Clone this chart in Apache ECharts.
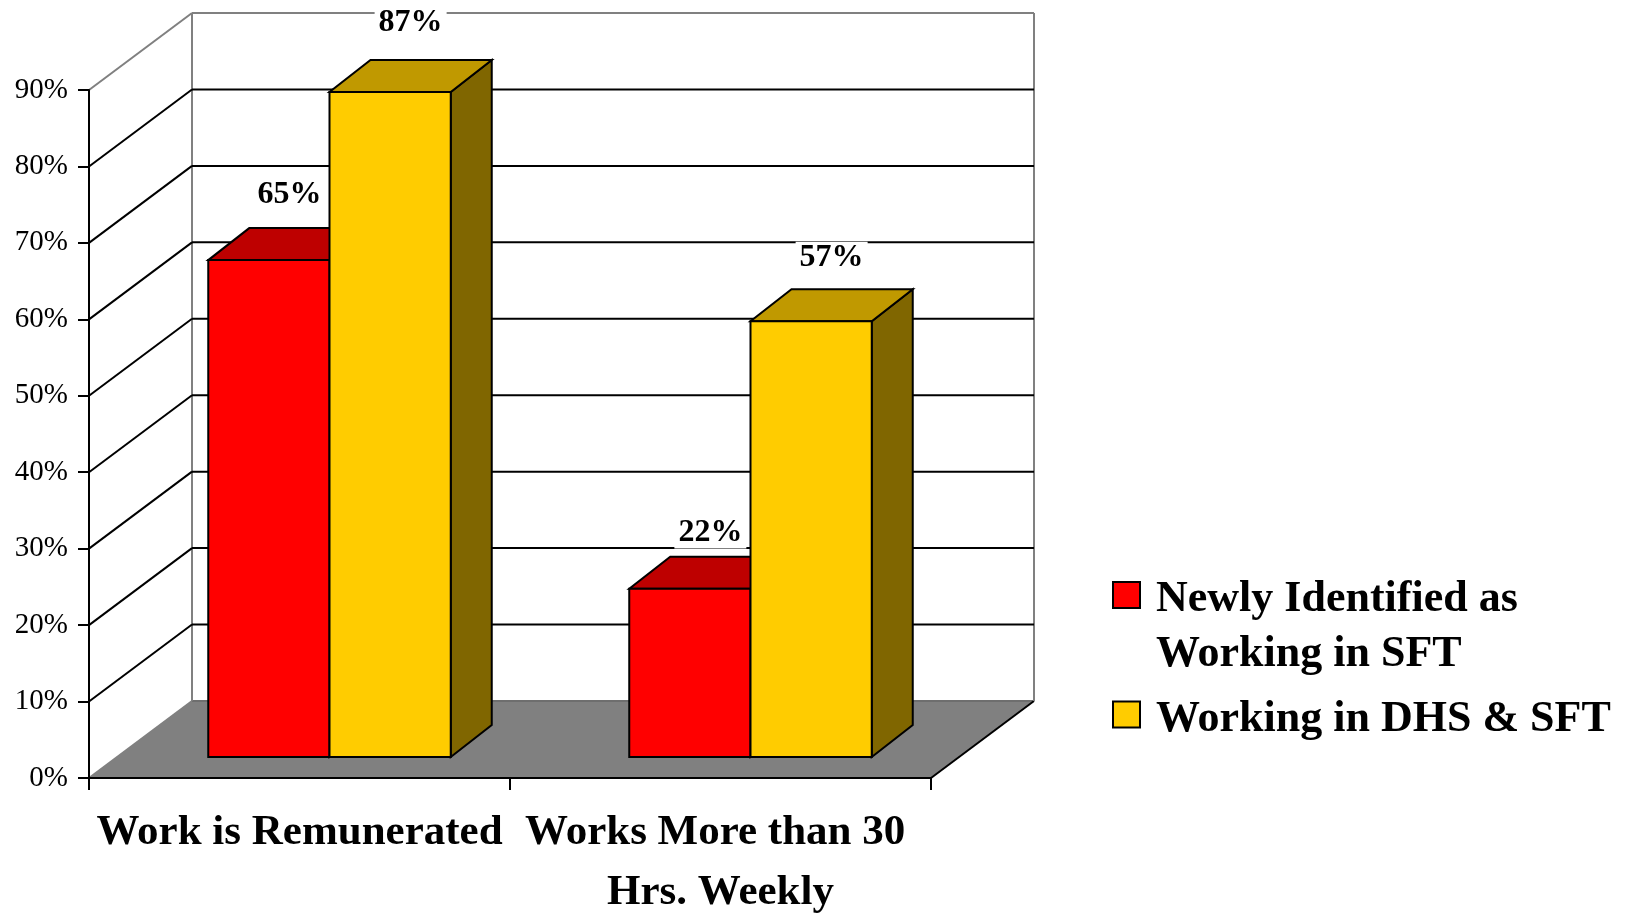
<!DOCTYPE html>
<html>
<head>
<meta charset="utf-8">
<title>Work in SFT</title>
<script src="https://cdn.jsdelivr.net/npm/echarts@6/dist/echarts.min.js"></script>
<style>
html, body { margin: 0; padding: 0; background: #fff; }
#chart { width: 1631px; height: 916px; }
</style>
</head>
<body>
<div id="chart"></div>
<script>
const categories = ['Work is Remunerated', 'Works More than 30 Hrs. Weekly'];
const seriesNames = ['Newly Identified as Working in SFT', 'Working in DHS & SFT'];
const newlyValues = [65, 22];
const dhsValues = [87, 57];
const yTicks = [0, 10, 20, 30, 40, 50, 60, 70, 80, 90];

const FONT = '"Liberation Serif", "Times New Roman", serif';
// fake 3d: depth of the box and of the bars, in px
const DX = 103, DY = 77;
const BAR_DX = 41, BAR_DY = 32;
const FRONT_DX = 30, FRONT_DY = 21;
const BAR_W = 0.288;

const chart = echarts.init(document.getElementById('chart'));

// walls, floor and grid lines of the box
function renderBox (params, api) {
  const cs = params.coordSys;
  const v = api.value(0);
  const x0 = cs.x;
  const x1 = cs.x + cs.width;
  const y = api.coord([0, v])[1];
  const gray = '#808080';
  const black = '#000';
  const line = (a, b, color) => ({
    type: 'line',
    shape: { x1: a[0], y1: a[1], x2: b[0], y2: b[1] },
    style: { stroke: color, lineWidth: 2 }
  });
  const children = [];
  if (v === 0) {
    children.push({
      type: 'polygon',
      shape: { points: [[x0, y], [x1, y], [x1 + DX, y - DY], [x0 + DX, y - DY]] },
      style: { fill: gray }
    });
    children.push(line([x0, y], [x0 + DX, y - DY], gray));
    children.push(line([x0 + DX, y - DY], [x1 + DX, y - DY], '#6e6e6e'));
    children.push(line([x1, y], [x1 + DX, y - DY], black));
    children.push(line([x0 + DX, y - DY], [x0 + DX, cs.y - DY], gray));
    children.push(line([x1 + DX, y - DY], [x1 + DX, cs.y - DY], gray));
  } else if (v === 90) {
    children.push(line([x0, y], [x0 + DX, y - DY], gray));
    children.push(line([x0 + DX, y - DY], [x1 + DX, y - DY], gray));
  } else {
    children.push(line([x0, y], [x0 + DX, y - DY], black));
    children.push(line([x0 + DX, y - DY], [x1 + DX, y - DY], black));
  }
  return { type: 'group', children: children };
}

function makeBarRender (side, front, top, right) {
  return function (params, api) {
    const idx = api.value(0);
    const val = api.value(1);
    const base = api.coord([idx, 0]);
    const peak = api.coord([idx, val]);
    const bw = api.size([1, 0])[0] * BAR_W;
    const cx = base[0] + FRONT_DX;
    const xl = side === 0 ? cx - bw : cx;
    const xr = xl + bw;
    const yb = base[1] - FRONT_DY;
    const yt = peak[1] - FRONT_DY;
    const edge = { stroke: '#000', lineWidth: 2, lineJoin: 'miter' };
    // taller bars get their label a bit higher, like the original
    const gap = 20 + 0.2 * val;
    return {
      type: 'group',
      children: [
        {
          type: 'polygon',
          shape: { points: [[xr, yt], [xr + BAR_DX, yt - BAR_DY], [xr + BAR_DX, yb - BAR_DY], [xr, yb]] },
          style: Object.assign({ fill: right }, edge)
        },
        {
          type: 'polygon',
          shape: { points: [[xl, yt], [xr, yt], [xr + BAR_DX, yt - BAR_DY], [xl + BAR_DX, yt - BAR_DY]] },
          style: Object.assign({ fill: top }, edge)
        },
        {
          type: 'rect',
          shape: { x: xl, y: yt, width: bw, height: yb - yt },
          style: Object.assign({ fill: front }, edge)
        },
        {
          type: 'text',
          z2: 100,
          style: {
            text: val + '%',
            x: (xl + xr) / 2 + BAR_DX / 2,
            y: yt - BAR_DY - gap,
            align: 'center',
            verticalAlign: 'middle',
            font: 'bold 32px ' + FONT,
            fill: '#000',
            backgroundColor: '#fff',
            padding: [0, 4]
          }
        }
      ]
    };
  };
}

const option = {
  backgroundColor: '#fff',
  animation: false,
  grid: {
    left: 89,
    right: 700,
    top: 90,
    bottom: 138,
    containLabel: false,
    outerBoundsMode: 'none'
  },
  xAxis: {
    type: 'category',
    data: categories,
    z: 3,
    axisLine: { show: true, lineStyle: { color: '#000', width: 2 } },
    axisTick: { show: true, length: 12, alignWithLabel: false, lineStyle: { color: '#000', width: 2 } },
    axisLabel: {
      interval: 0,
      margin: 25,
      color: '#000',
      fontFamily: FONT,
      fontWeight: 'bold',
      fontSize: 43,
      lineHeight: 60,
      width: 420,
      overflow: 'break'
    },
    splitLine: { show: false }
  },
  yAxis: {
    type: 'value',
    min: 0,
    max: 90,
    interval: 10,
    z: 3,
    axisLine: { show: true, lineStyle: { color: '#000', width: 2 } },
    axisTick: { show: true, length: 11, lineStyle: { color: '#000', width: 2 } },
    axisLabel: {
      formatter: '{value}%',
      margin: 21,
      color: '#000',
      fontFamily: FONT,
      fontSize: 29
    },
    splitLine: { show: false }
  },
  legend: {
    orient: 'vertical',
    left: 1112,
    top: 535,
    padding: 0,
    itemWidth: 27,
    itemHeight: 26,
    itemGap: 5,
    icon: 'rect',
    selectedMode: false,
    // a blank spacer line on top keeps the square level with the first text line
    formatter: function (name) {
      if (name === seriesNames[0]) {
        return '{s1| }\n{t|Newly Identified as}\n{t|Working in SFT}';
      }
      return '{s2| }\n{t|' + name + '}';
    },
    textStyle: {
      color: '#000',
      fontFamily: FONT,
      fontWeight: 'bold',
      fontSize: 44,
      padding: [0, 0, 0, 11],
      rich: {
        s1: { fontSize: 10, lineHeight: 65 },
        s2: { fontSize: 10, lineHeight: 10 },
        t: {
          color: '#000',
          fontFamily: FONT,
          fontWeight: 'bold',
          fontSize: 44,
          lineHeight: 55
        }
      }
    },
    data: [
      {
        name: seriesNames[0],
        itemStyle: { color: '#FF0000', borderColor: '#000', borderWidth: 2 }
      },
      {
        name: seriesNames[1],
        itemStyle: { color: '#FFCC00', borderColor: '#000', borderWidth: 2 }
      }
    ]
  },
  series: [
    {
      type: 'custom',
      z: 1,
      silent: true,
      renderItem: renderBox,
      data: yTicks.map(v => [v])
    },
    {
      name: seriesNames[0],
      type: 'custom',
      z: 2,
      itemStyle: { color: '#FF0000' },
      renderItem: makeBarRender(0, '#FF0000', '#BE0000', '#800000'),
      data: newlyValues.map((v, i) => [i, v])
    },
    {
      name: seriesNames[1],
      type: 'custom',
      z: 2,
      itemStyle: { color: '#FFCC00' },
      renderItem: makeBarRender(1, '#FFCC00', '#C09900', '#806600'),
      data: dhsValues.map((v, i) => [i, v])
    }
  ]
};

chart.setOption(option);
</script>
</body>
</html>
